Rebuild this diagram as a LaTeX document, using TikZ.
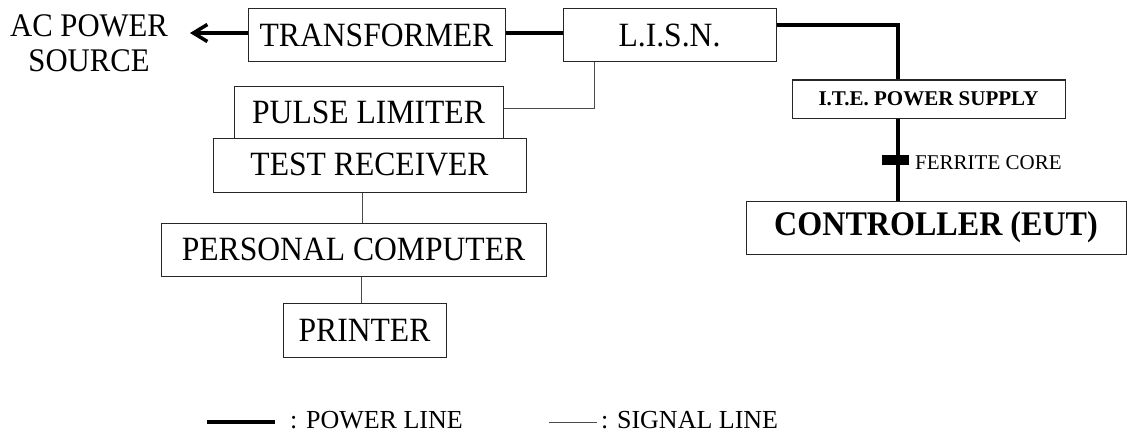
\documentclass[tikz,border=0pt]{standalone}
\usepackage{fontspec}
\setmainfont{Liberation Serif}
\newfontfamily\narrowserif[FakeStretch=0.93]{Liberation Serif}
\usetikzlibrary{arrows.meta}
\begin{document}
\begin{tikzpicture}[x=1pt,y=-1pt,
  unit/.style={draw=black!85, line width=1pt, inner sep=0pt,
    font=\narrowserif\fontsize{34}{38}\selectfont},
  smallunit/.style={unit, font=\fontsize{21}{24}\selectfont\bfseries},
  bigunit/.style={unit, font=\narrowserif\fontsize{34.5}{38}\selectfont\bfseries},
  power/.style={line width=3.5pt, line join=miter},
  signal/.style={line width=1pt, draw=black!70},
  label/.style={inner sep=0pt, font=\narrowserif\fontsize{33}{35}\selectfont},
  note/.style={inner sep=0pt, font=\fontsize{21}{24}\selectfont},
  legendtext/.style={inner sep=0pt, font=\fontsize{26}{30}\selectfont}]

\useasboundingbox (0,0) rectangle (1127,436);

% equipment blocks
\node[unit, minimum width=257, minimum height=53] (tr)  at (376.5,35.5) {TRANSFORMER};
\node[unit, minimum width=213, minimum height=53] (lisn) at (669.5,35.5) {L.I.S.N.};
\node[smallunit, minimum width=273, minimum height=38] (ite) at (928.5,99) {I.T.E. POWER SUPPLY};
\node[bigunit, minimum width=380, minimum height=53] (ctl) at (936,227.5) {CONTROLLER (EUT)};
\node[unit, minimum width=269, minimum height=52] (pl)  at (368.5,112) {PULSE LIMITER};
\node[unit, minimum width=313, minimum height=54] (rx)  at (369.5,165) {TEST RECEIVER};
\node[unit, minimum width=385, minimum height=53] (pc)  at (353.5,249.5) {PERSONAL COMPUTER};
\node[unit, minimum width=163, minimum height=54] (prn) at (364.5,330) {PRINTER};

\node[label, align=center] (src) at (89,43) {AC POWER\\SOURCE};

% routing points
\coordinate (acend) at (190,33);
\coordinate (bend)  at (898,25);
\coordinate (sig)   at (594,108);
\coordinate (rxpc)  at (362,0);
\coordinate (pcprn) at (361,0);

% power lines
\draw[power, -{Straight Barb[length=14pt, width=17pt]}] ([yshift=2.5pt]tr.west) -- (acend);
\draw[power] ([yshift=2.5pt]tr.east) -- ([yshift=2.5pt]lisn.west);
\draw[power] (lisn.east |- bend) -- (bend) -- (bend |- ite.north);
\draw[power] (bend |- ite.south) -- (bend |- ctl.north);
\node[fill=black, inner sep=0pt, minimum width=27, minimum height=10] (fc) at (895.5,160) {};
\node[note, anchor=west] (fctext) at (915,162.5) {FERRITE CORE};

% signal lines
\draw[signal] (sig |- lisn.south) -- (sig) -- (pl.east |- sig);
\draw[signal] (rxpc |- rx.south) -- (rxpc |- pc.north);
\draw[signal] (pcprn |- pc.south) -- (pcprn |- prn.north);

% legend
\coordinate (lp1) at (207,422);
\coordinate (lp2) at (275,422);
\coordinate (ls1) at (549,422);
\coordinate (ls2) at (597,422);
\draw[power] (lp1) -- (lp2);
\node[legendtext, anchor=west] (lpt) at (290,420.5) {: POWER LINE};
\draw[signal] (ls1) -- (ls2);
\node[legendtext, anchor=west] (lst) at (601,420.5) {: SIGNAL LINE};
\end{tikzpicture}
\end{document}
